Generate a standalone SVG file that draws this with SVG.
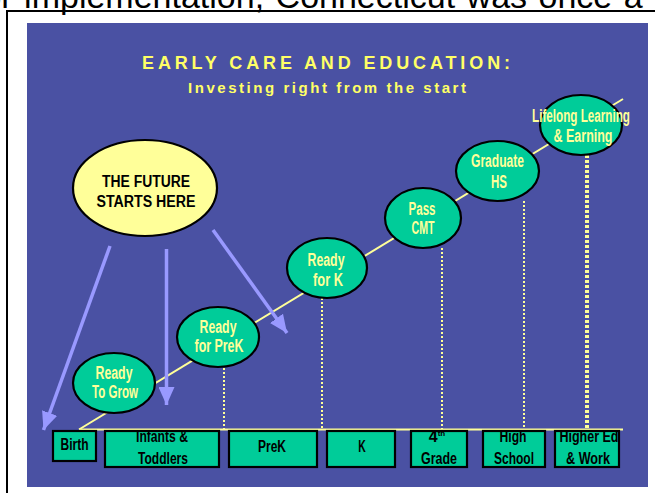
<svg xmlns="http://www.w3.org/2000/svg" width="655" height="493" viewBox="0 0 655 493">
<defs>
<style>
.top{font-family:"Liberation Sans",Arial,sans-serif;font-size:34px;fill:#000}
.title{font-family:"Liberation Sans",Arial,sans-serif;font-weight:bold;fill:#FFFF66}
.gl{fill:#00CC99;stroke:#000;stroke-width:2.2}
.gt{font-family:"Liberation Sans",Arial,sans-serif;font-weight:bold;font-size:18px;fill:#FFFF99;text-anchor:middle}
.bx{fill:#00CC99;stroke:#000;stroke-width:2.2}
.bt{font-family:"Liberation Sans",Arial,sans-serif;font-weight:bold;font-size:16px;fill:#000;text-anchor:middle}
.dot{stroke:#FFFF99;stroke-width:2;stroke-dasharray:2 2;fill:none}
.arr{stroke:#9999FF;stroke-width:3.5;fill:none;marker-end:url(#ah)}
</style>
<marker id="ah" markerUnits="userSpaceOnUse" markerWidth="20" markerHeight="16" refX="18" refY="8" orient="auto">
<path d="M0,0 L18,8 L0,16 Z" fill="#9999FF"/>
</marker>
</defs>
<rect x="0" y="0" width="655" height="493" fill="#fff"/>
<g id="toptext">
<text class="top" x="-27" y="8" word-spacing="2">for implementation, Connecticut was once a</text>
</g>
<path d="M7,493 V11 H655" fill="none" stroke="#000" stroke-width="2"/>
<rect x="27" y="23" width="621" height="464" fill="#4A51A3"/>
<g id="title">
<text class="title" x="142" y="69" font-size="18" textLength="368">EARLY CARE AND EDUCATION:</text>
<text class="title" x="188" y="92.7" font-size="15" textLength="278">Investing right from the start</text>
</g>
<g id="connectors">
<line x1="79" y1="429.5" x2="623" y2="99" stroke="#FFFF99" stroke-width="2"/>
<line x1="79" y1="429.5" x2="623" y2="429.5" stroke="#FFFF99" stroke-width="2"/>
<line class="dot" x1="224" y1="368" x2="224" y2="429"/>
<line class="dot" x1="322" y1="298" x2="322" y2="429"/>
<line class="dot" x1="442" y1="248" x2="442" y2="429"/>
<line class="dot" x1="524" y1="201" x2="524" y2="429"/>
<line x1="587" y1="155" x2="587" y2="429" stroke="#FFFF99" stroke-width="4" stroke-dasharray="3 2"/>
<line class="arr" x1="110" y1="246" x2="43.5" y2="430"/>
<line class="arr" x1="166.5" y1="249" x2="166.5" y2="405"/>
<line class="arr" x1="213" y1="230" x2="287" y2="333"/>
</g>
<g id="future">
<ellipse cx="145" cy="188" rx="72" ry="48" fill="#FFFF99" stroke="#000" stroke-width="2.2"/>
<text class="bt" x="146" y="186.7" textLength="88" lengthAdjust="spacingAndGlyphs">THE FUTURE</text>
<text class="bt" x="146" y="206.7" textLength="99" lengthAdjust="spacingAndGlyphs">STARTS HERE</text>
</g>
<g id="n1"><ellipse class="gl" cx="114" cy="383" rx="41" ry="30"/>
<text class="gt" x="114" y="379" textLength="37" lengthAdjust="spacingAndGlyphs">Ready</text>
<text class="gt" x="115" y="398" textLength="46" lengthAdjust="spacingAndGlyphs">To Grow</text></g>
<g id="n2"><ellipse class="gl" cx="218" cy="337" rx="41" ry="30"/>
<text class="gt" x="218" y="333" textLength="37" lengthAdjust="spacingAndGlyphs">Ready</text>
<text class="gt" x="219" y="352" textLength="49" lengthAdjust="spacingAndGlyphs">for PreK</text></g>
<g id="n3"><ellipse class="gl" cx="327" cy="268" rx="40" ry="30"/>
<text class="gt" x="326" y="265.7" textLength="37" lengthAdjust="spacingAndGlyphs">Ready</text>
<text class="gt" x="328" y="285.7" textLength="30" lengthAdjust="spacingAndGlyphs">for K</text></g>
<g id="n4"><ellipse class="gl" cx="423" cy="218" rx="38" ry="30"/>
<text class="gt" x="422" y="215" textLength="27" lengthAdjust="spacingAndGlyphs">Pass</text>
<text class="gt" x="423" y="234.3" textLength="23" lengthAdjust="spacingAndGlyphs">CMT</text></g>
<g id="n5"><ellipse class="gl" cx="497.5" cy="171" rx="41.5" ry="30"/>
<text class="gt" x="497.5" y="166.7" textLength="53" lengthAdjust="spacingAndGlyphs">Graduate</text>
<text class="gt" x="499" y="188.3" textLength="16" lengthAdjust="spacingAndGlyphs">HS</text></g>
<g id="n6"><ellipse class="gl" cx="581" cy="125" rx="41" ry="30"/>
<text class="gt" x="581" y="121.7" textLength="98" lengthAdjust="spacingAndGlyphs">Lifelong Learning</text>
<text class="gt" x="583" y="141.7" textLength="59" lengthAdjust="spacingAndGlyphs">&amp; Earning</text></g>
<g id="b1"><rect class="bx" x="53" y="431" width="43" height="30"/>
<text class="bt" x="74.5" y="450" textLength="28" lengthAdjust="spacingAndGlyphs">Birth</text></g>
<g id="b2"><rect class="bx" x="105" y="431" width="114" height="36"/>
<text class="bt" x="162" y="442" textLength="52" lengthAdjust="spacingAndGlyphs">Infants &amp;</text>
<text class="bt" x="163" y="464.3" textLength="50" lengthAdjust="spacingAndGlyphs">Toddlers</text></g>
<g id="b3"><rect class="bx" x="229" y="431" width="88" height="36"/>
<text class="bt" x="272" y="452.3" textLength="28" lengthAdjust="spacingAndGlyphs">PreK</text></g>
<g id="b4"><rect class="bx" x="327" y="431" width="68" height="36"/>
<text class="bt" x="362" y="452" textLength="7.5" lengthAdjust="spacingAndGlyphs">K</text></g>
<g id="b5"><rect class="bx" x="411" y="431" width="56" height="36"/>
<text class="bt" x="437" y="442">4<tspan font-size="8" dy="-6">th</tspan></text>
<text class="bt" x="439" y="464" textLength="36" lengthAdjust="spacingAndGlyphs">Grade</text></g>
<g id="b6"><rect class="bx" x="483" y="431" width="62" height="36"/>
<text class="bt" x="513" y="442" textLength="27" lengthAdjust="spacingAndGlyphs">High</text>
<text class="bt" x="514" y="464" textLength="40" lengthAdjust="spacingAndGlyphs">School</text></g>
<g id="b7"><rect class="bx" x="555" y="431" width="64" height="36"/>
<text class="bt" x="589" y="442" textLength="59" lengthAdjust="spacingAndGlyphs">Higher Ed</text>
<text class="bt" x="588" y="464" textLength="44" lengthAdjust="spacingAndGlyphs">&amp; Work</text></g>
</svg>
